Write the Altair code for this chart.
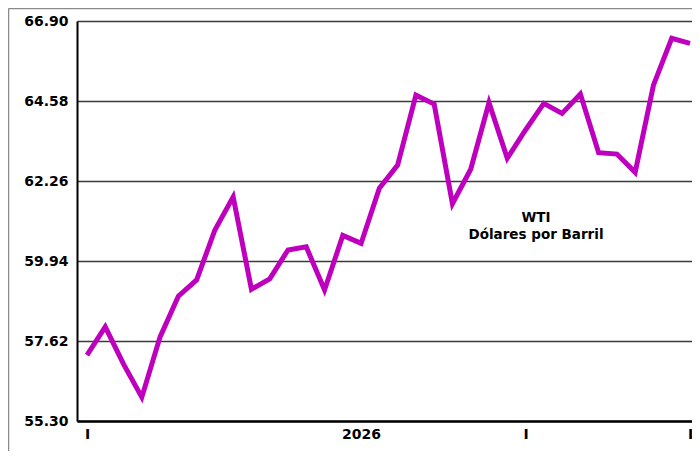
import altair as alt
import pandas as pd

# WTI price series (USD per barrel)
idx = list(range(34))
wti = [57.21, 58.03, 56.95, 55.99, 57.74, 58.92, 59.39, 60.84, 61.80, 59.12,
       59.42, 60.26, 60.35, 59.10, 60.68, 60.45, 62.05, 62.72, 64.75, 64.49,
       61.60, 62.60, 64.53, 62.92, 63.74, 64.51, 64.22, 64.78, 63.08, 63.04,
       62.51, 65.04, 66.40, 66.25]

y_ticks = [55.30, 57.62, 59.94, 62.26, 64.58, 66.90]
x_tick_pos = [0, 15, 24, 33]
x_tick_lab = ["I", "2026", "I", "I"]
title_lines = ["WTI", "Dólares por Barril"]

df = pd.DataFrame({"i": idx, "v": wti})

FONT = "DejaVu Sans"
label_expr = "{" + ",".join(f"'{p}':'{l}'" for p, l in zip(x_tick_pos, x_tick_lab)) + "}[datum.value]"

W, H = 615, 400

x_scale = alt.Scale(domain=[-0.547, 33.11], nice=False, zero=False)
y_scale = alt.Scale(domain=[55.30, 66.90], nice=False, zero=False)

line = alt.Chart(df).mark_line(
    color="#BE00BE", strokeWidth=5, strokeJoin="miter", strokeCap="butt"
).encode(
    x=alt.X("i:Q", scale=x_scale,
            axis=alt.Axis(values=x_tick_pos, labelExpr=label_expr, title=None,
                          grid=False, ticks=False, domain=True,
                          domainColor="#000000", domainWidth=2.5,
                          labelFont=FONT, labelFontWeight="bold", labelFontSize=14,
                          labelColor="#000000", labelPadding=6, labelFlush=False)),
    y=alt.Y("v:Q", scale=y_scale,
            axis=alt.Axis(values=y_ticks, format=".2f", title=None,
                          grid=True, gridColor="#3a3a3a", gridWidth=1.3,
                          ticks=False, domain=True, domainColor="#000000", domainWidth=2,
                          labelFont=FONT, labelFontWeight="bold", labelFontSize=14,
                          labelColor="#000000", labelPadding=9)),
)

one = pd.DataFrame({"a": [0]})

ann1 = alt.Chart(one).mark_text(
    font=FONT, fontWeight="bold", fontSize=13.5, color="#000000", align="center", baseline="middle",
    text=title_lines[0]
).encode(x=alt.value(459), y=alt.value(197))

ann2 = alt.Chart(one).mark_text(
    font=FONT, fontWeight="bold", fontSize=13.5, color="#000000", align="center", baseline="middle",
    text=title_lines[1]
).encode(x=alt.value(459), y=alt.value(214))

# outer frame lines
frame_left = alt.Chart(one).mark_rule(color="#8a8a8a", strokeWidth=1.5).encode(
    x=alt.value(-68.5), y=alt.value(-12.5), y2=alt.value(H + 40))
frame_top = alt.Chart(one).mark_rule(color="#8a8a8a", strokeWidth=1.5).encode(
    x=alt.value(-68.5), x2=alt.value(W), y=alt.value(-12.5))

chart = alt.layer(frame_left, frame_top, line, ann1, ann2).properties(
    width=W, height=H,
    autosize=alt.AutoSizeParams(type="none"),
    padding={"left": 69, "top": 13, "right": 0, "bottom": 30},
    background="#ffffff",
).configure_view(stroke=None)

chart.save("out.html", embed_options={"renderer": "svg", "actions": False})
